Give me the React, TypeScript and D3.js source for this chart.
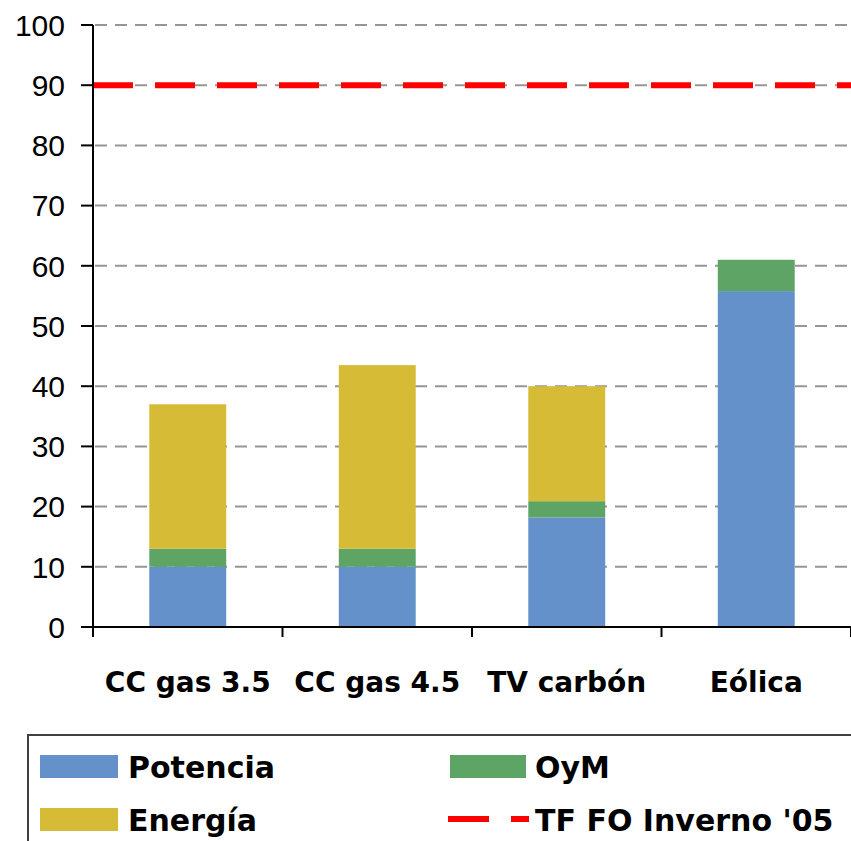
import * as d3 from "d3";

const categories = ["CC gas 3.5", "CC gas 4.5", "TV carbón", "Eólica"];
const potencia = [10, 10, 18.2, 55.8];
const oym = [3, 3, 2.7, 5.2];
const energia = [24, 30.5, 19.1, 0];
const referenceValue = 90;
const yTicks = [0, 10, 20, 30, 40, 50, 60, 70, 80, 90, 100];

const seriesNames = ["Potencia", "OyM", "Energía"];
const colors: Record<string, string> = {
  Potencia: "#6591CB",
  OyM: "#5EA465",
  "Energía": "#D6BB37",
};

const W = 851;
const H = 841;
const plot = { left: 93, right: 851, top: 25, bottom: 627 };

export default function App() {
  const x = d3
    .scaleBand<string>()
    .domain(categories)
    .range([plot.left, plot.right])
    .paddingInner(0.594)
    .paddingOuter(0.297);

  const y = d3.scaleLinear().domain([0, 100]).range([plot.bottom, plot.top]);

  const rows = categories.map((c, i) => ({
    cat: c,
    Potencia: potencia[i],
    OyM: oym[i],
    "Energía": energia[i],
  }));
  const stacked = d3.stack<any>().keys(seriesNames)(rows);

  const step = (plot.right - plot.left) / categories.length;
  const catEdges = d3.range(categories.length + 1).map((i) => plot.left + i * step);

  const tickFont = "'Liberation Sans', Arial, sans-serif";
  const boldFont = "'DejaVu Sans', Verdana, sans-serif";

  return (
    <svg
      width={W}
      height={H}
      style={{ position: "absolute", left: 0, top: 0, background: "#fff" }}
    >
      {/* grid */}
      {yTicks.filter((t) => t > 0).map((t) => (
        <line
          key={"g" + t}
          x1={plot.left + 2}
          x2={plot.right}
          y1={y(t)}
          y2={y(t)}
          stroke="#969696"
          strokeWidth={2}
          strokeDasharray="12,8"
        />
      ))}

      {/* bars */}
      {stacked.map((layer) => (
        <g key={layer.key} fill={colors[layer.key]}>
          {layer.map((d, i) =>
            d[1] - d[0] > 0 ? (
              <rect
                key={i}
                x={x(categories[i])}
                width={x.bandwidth()}
                y={y(d[1])}
                height={y(d[0]) - y(d[1])}
              />
            ) : null
          )}
        </g>
      ))}

      {/* reference line */}
      <line
        x1={plot.left}
        x2={plot.right}
        y1={y(referenceValue)}
        y2={y(referenceValue)}
        stroke="#FF0000"
        strokeWidth={6}
        strokeDasharray="40,22"
      />

      {/* y axis */}
      <line x1={plot.left} x2={plot.left} y1={plot.top} y2={plot.bottom} stroke="#000" strokeWidth={2} />
      {yTicks.map((t) => (
        <g key={"t" + t}>
          <line x1={plot.left - 12} x2={plot.left} y1={y(t)} y2={y(t)} stroke="#000" strokeWidth={2} />
          <text
            x={65}
            y={y(t)}
            dy="0.36em"
            textAnchor="end"
            fontFamily={tickFont}
            fontSize={30}
            fill="#000"
          >
            {t}
          </text>
        </g>
      ))}

      {/* x axis */}
      <line x1={plot.left} x2={plot.right} y1={plot.bottom} y2={plot.bottom} stroke="#000" strokeWidth={2} />
      {catEdges.map((e, i) => (
        <line key={"c" + i} x1={e} x2={e} y1={plot.bottom} y2={plot.bottom + 10} stroke="#000" strokeWidth={2} />
      ))}
      {categories.map((c) => (
        <text
          key={c}
          x={(x(c) as number) + x.bandwidth() / 2}
          y={692}
          textAnchor="middle"
          fontFamily={boldFont}
          fontWeight="bold"
          fontSize={28}
          fill="#000"
        >
          {c}
        </text>
      ))}

      {/* legend */}
      <rect x={28} y={735} width={840} height={120} fill="#fff" stroke="#404040" strokeWidth={2} />
      <rect x={40} y={755} width={78} height={23} fill={colors.Potencia} />
      <text x={128} y={778} fontFamily={boldFont} fontWeight="bold" fontSize={30}>Potencia</text>
      <rect x={40} y={808} width={78} height={23} fill={colors["Energía"]} />
      <text x={128} y={831} fontFamily={boldFont} fontWeight="bold" fontSize={30}>Energía</text>
      <rect x={450} y={755} width={76} height={23} fill={colors.OyM} />
      <text x={535} y={778} fontFamily={boldFont} fontWeight="bold" fontSize={30}>OyM</text>
      <line x1={448} x2={529} y1={819} y2={819} stroke="#FF0000" strokeWidth={6} strokeDasharray="41,22" />
      <text x={535} y={831} fontFamily={boldFont} fontWeight="bold" fontSize={30}>TF FO Inverno '05</text>
    </svg>
  );
}
